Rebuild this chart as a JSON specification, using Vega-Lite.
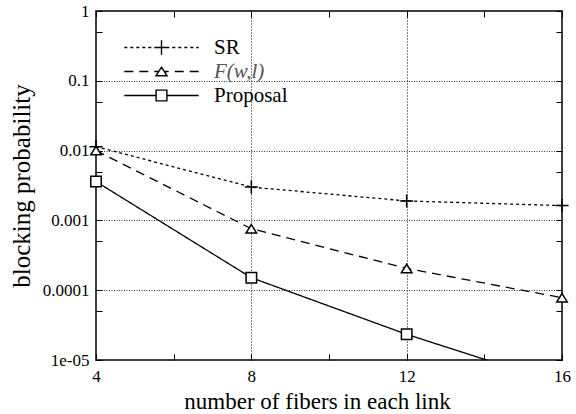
{
  "$schema": "https://vega.github.io/schema/vega-lite/v6.json",
  "width": 466,
  "height": 349,
  "autosize": "none",
  "padding": {"left": 96, "top": 11, "right": 14, "bottom": 54},
  "background": "white",
  "config": {
    "font": "Liberation Serif",
    "view": {"stroke": "black", "strokeWidth": 1.5},
    "legend": {"labelFont": "Liberation Serif", "titleFont": "Liberation Serif"},
    "axis": {
      "labelFont": "Liberation Serif",
      "titleFont": "Liberation Serif",
      "labelColor": "black",
      "titleColor": "black",
      "tickColor": "black",
      "titleFontWeight": "normal",
      "labelFlush": false,
      "labelOverlap": false,
      "labelBound": false,
      "domain": false
    }
  },
  "data": {
    "values": [
      {"fibers": 4, "p": 0.0114, "series": "SR"},
      {"fibers": 8, "p": 0.0030, "series": "SR"},
      {"fibers": 12, "p": 0.0019, "series": "SR"},
      {"fibers": 16, "p": 0.00163, "series": "SR"},
      {"fibers": 4, "p": 0.0100, "series": "F(w,l)"},
      {"fibers": 8, "p": 0.00076, "series": "F(w,l)"},
      {"fibers": 12, "p": 0.000205, "series": "F(w,l)"},
      {"fibers": 16, "p": 0.000078, "series": "F(w,l)"},
      {"fibers": 4, "p": 0.0036, "series": "Proposal"},
      {"fibers": 8, "p": 0.000151, "series": "Proposal"},
      {"fibers": 12, "p": 0.0000233, "series": "Proposal"},
      {"fibers": 16, "p": 0.0000045, "series": "Proposal"}
    ]
  },
  "layer": [
    {
      "layer": [
        {
          "mark": {"type": "line", "clip": true, "color": "black", "strokeWidth": 1.3},
          "encoding": {
            "x": {
              "field": "fibers", "type": "quantitative",
              "scale": {"domain": [4, 16], "nice": false, "zero": false},
              "axis": {
                "values": [4, 6, 8, 10, 12, 14, 16],
                "labelExpr": "datum.value % 4 == 0 ? datum.label : ''",
                "title": "number of fibers in each link",
                "titleFontSize": 23,
                "titlePadding": 6,
                "titleX": 221,
                "labelFontSize": 17,
                "tickSize": -6,
                "labelPadding": 14,
                "grid": true,
                "gridColor": "black",
                "gridDash": [1, 2],
                "gridWidth": 1,
                "gridOpacity": {"condition": {"test": "datum.value == 8 || datum.value == 12", "value": 1}, "value": 0}
              }
            },
            "y": {
              "field": "p", "type": "quantitative",
              "scale": {"type": "log", "domain": [0.00001, 1], "nice": false},
              "axis": {
                "values": [0.00001, 0.00005, 0.0001, 0.0005, 0.001, 0.005, 0.01, 0.05, 0.1, 0.5, 1],
                "labelExpr": "datum.value > 0.9 ? '1' : (datum.value > 0.09 && datum.value < 0.11) ? '0.1' : (datum.value > 0.009 && datum.value < 0.011) ? '0.01' : (datum.value > 0.0009 && datum.value < 0.0011) ? '0.001' : (datum.value > 0.00009 && datum.value < 0.00011) ? '0.0001' : (datum.value < 0.000011) ? '1e-05' : ''",
                "title": "blocking probability",
                "titleFontSize": 25,
                "titlePadding": 8,
                "labelFontSize": 17,
                "tickSize": -6,
                "labelPadding": 13,
                "grid": true,
                "gridColor": "#333",
                "gridDash": [1, 1.5],
                "gridWidth": 1,
                "gridOpacity": {"condition": {"test": "(datum.value > 0.09 && datum.value < 0.11) || (datum.value > 0.009 && datum.value < 0.011) || (datum.value > 0.0009 && datum.value < 0.0011) || (datum.value > 0.00009 && datum.value < 0.00011)", "value": 1}, "value": 0}
              }
            },
            "strokeDash": {
              "field": "series", "type": "nominal",
              "scale": {"domain": ["SR", "F(w,l)", "Proposal"], "range": [[3, 3], [9, 6], [1, 0]]},
              "legend": null
            }
          }
        },
        {
          "transform": [{"filter": "datum.p >= 0.00001"}],
          "mark": {"type": "point", "filled": true, "fill": "white", "stroke": "black", "strokeWidth": 1.5, "size": 110, "opacity": 1},
          "encoding": {
            "x": {"field": "fibers", "type": "quantitative", "scale": {"domain": [4, 16], "nice": false, "zero": false}},
            "y": {"field": "p", "type": "quantitative", "scale": {"type": "log", "domain": [0.00001, 1], "nice": false}},
            "shape": {
              "field": "series", "type": "nominal",
              "scale": {"domain": ["SR", "F(w,l)", "Proposal"], "range": ["M-1.25,0L1.25,0M0,-1.25L0,1.25", "M0,-0.8L1,0.8L-1,0.8Z", "square"]},
              "legend": null
            }
          }
        }
      ]
    },
    {
      "mark": {"type": "point", "filled": false, "stroke": "black", "opacity": 0},
      "encoding": {
        "x": {
          "field": "fibers", "type": "quantitative",
          "scale": {"domain": [4, 16], "nice": false, "zero": false},
          "axis": {"orient": "top", "values": [4, 6, 8, 10, 12, 14, 16], "labels": false, "title": null, "grid": false, "tickSize": -6}
        },
        "y": {
          "field": "p", "type": "quantitative",
          "scale": {"type": "log", "domain": [0.00001, 1], "nice": false},
          "axis": {"orient": "right", "values": [0.00001, 0.00005, 0.0001, 0.0005, 0.001, 0.005, 0.01, 0.05, 0.1, 0.5, 1], "labels": false, "title": null, "grid": false, "tickSize": -6}
        },
        "shape": {
          "field": "series", "type": "nominal",
          "scale": {
            "domain": ["SR", "F(w,l)", "Proposal"],
            "range": [
              "M-6.2,0H-5.7M-5.2,0H-4.7M-4.2,0H-3.7M-3.2,0H-2.7M-2.2,0H-1.7M-1.2,0H-0.7M-0.2,0H0.3M0.8,0H1.3M1.8,0H2.3M2.8,0H3.3M3.8,0H4.3M4.8,0H5.3M5.8,0H6.2M-1.2,0H1.2M0,-1.2V1.2",
              "M-6.2,0H-4.7M-3.7,0H-2.2M-1.2,0H-0.46M0.46,0H1.2M2.2,0H3.7M4.7,0H6.2M0,-0.72L0.92,0.72L-0.92,0.72Z",
              "M-6.2,0H-0.9M0.9,0H6.2M-0.9,-0.9H0.9V0.9H-0.9Z"
            ]
          },
          "legend": {
            "orient": "none",
            "legendX": 55,
            "legendY": 26,
            "title": null,
            "padding": 0,
            "symbolSize": 144,
            "symbolOpacity": 1,
            "symbolFillColor": "white",
            "symbolStrokeColor": "black",
            "symbolStrokeWidth": 1.4,
            "labelFont": "Liberation Serif",
            "labelFontSize": 21,
            "labelColor": {"expr": "datum.label == 'F(w,l)' ? '#555555' : '#000000'"},
            "labelFontStyle": {"expr": "datum.label == 'F(w,l)' ? 'italic' : 'normal'"},
            "labelOffset": 42,
            "rowPadding": 2
          }
        }
      }
    }
  ],
  "resolve": {"axis": {"x": "independent", "y": "independent"}, "scale": {"shape": "independent"}}
}
